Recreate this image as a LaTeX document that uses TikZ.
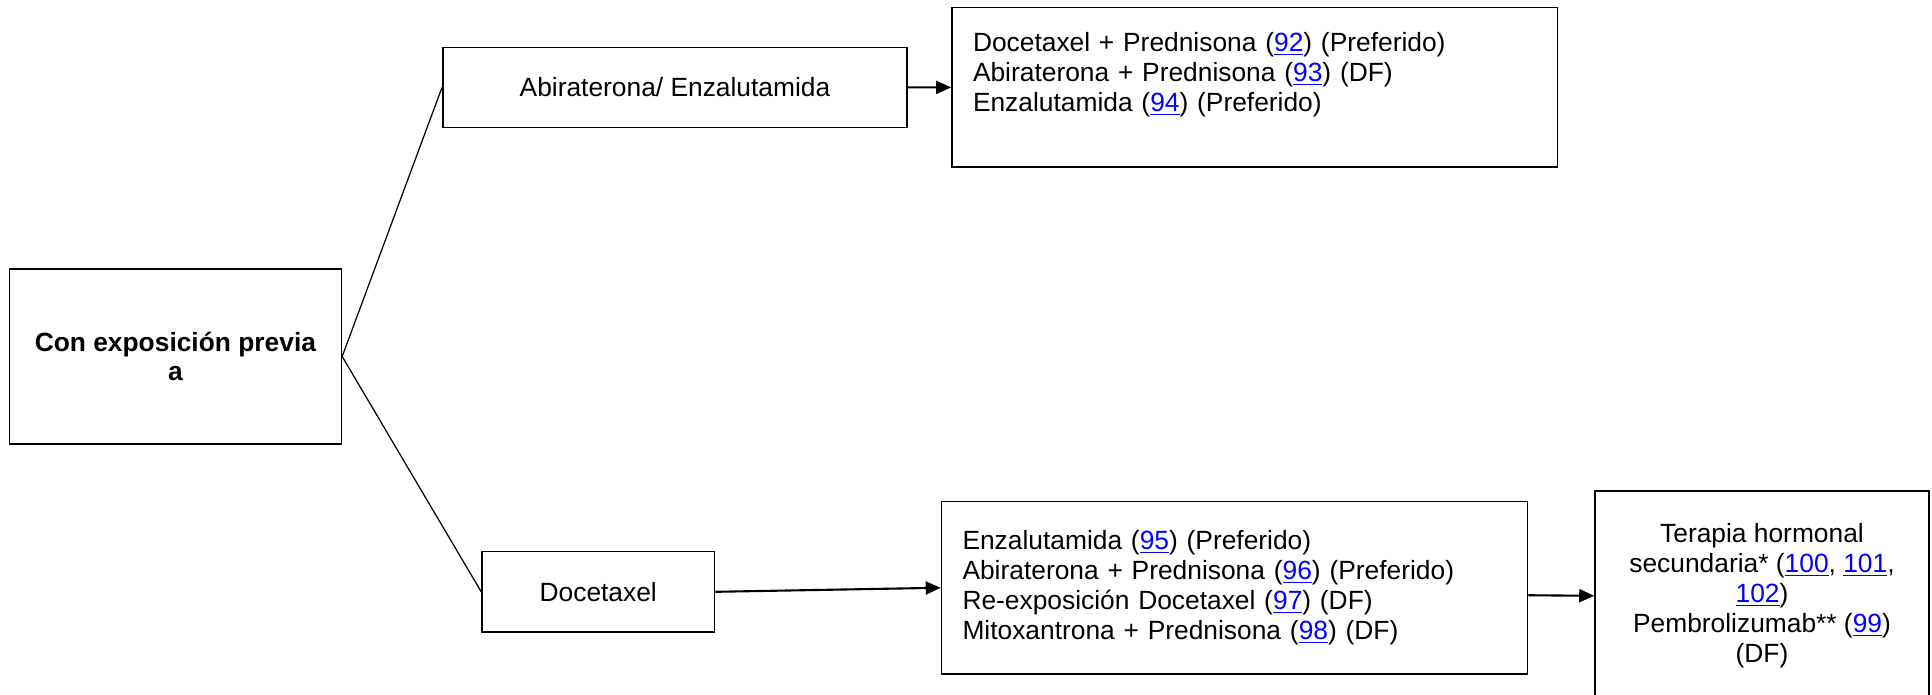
\documentclass[tikz,border=0pt]{standalone}
\usepackage{fontspec}
\setmainfont{Liberation Sans}
\usepackage{tikz}
\usetikzlibrary{arrows.meta,positioning}
\definecolor{linkBlue}{RGB}{0,0,255}
\newcommand{\cita}[1]{\textcolor{linkBlue}{\underline{#1}}}

\begin{document}
\begin{tikzpicture}[
      box/.style={draw, line width=0.9pt, inner sep=0pt,
        font=\fontsize{15}{17}\selectfont},
      lst/.style={box, align=left, inner xsep=0.42cm, text width=#1},
      rama/.style={line width=0.7pt},
      flecha/.style={->, line width=1.2pt},
      >={Triangle[length=0.3cm,width=0.26cm]}
    ]
      \useasboundingbox (0,0) rectangle (38.64,-13.88);

      % Starting box
      \node[box, minimum width=6.64cm, minimum height=3.5cm, align=center,
        font=\fontsize{15}{17}\selectfont\bfseries] (prev) at (3.508,-7.13)
        {Con exposición previa\\a};

      % First line of treatment
      \node[box, minimum width=9.29cm, minimum height=1.6cm] (abien)
        at (13.5,-1.75) {Abiraterona/ Enzalutamida};
      \node[box, minimum width=4.65cm, minimum height=1.608cm] (doce)
        at (11.965,-11.836) {Docetaxel};

      % Options
      \node[lst=11.27cm, minimum height=3.19cm] (opcA) at (25.095,-1.745)
        {Docetaxel + Prednisona (\cita{92}) (Preferido)\\
         Abiraterona + Prednisona (\cita{93}) (DF)\\
         Enzalutamida (\cita{94}) (Preferido)\\ ~};
      \node[lst=10.88cm, minimum height=3.45cm] (opcB) at (24.69,-11.755)
        {Enzalutamida (\cita{95}) (Preferido)\\
         Abiraterona + Prednisona (\cita{96}) (Preferido)\\
         Re-exposición Docetaxel (\cita{97}) (DF)\\
         Mitoxantrona + Prednisona (\cita{98}) (DF)};
      \node[box, anchor=north, minimum width=6.68cm, minimum height=4.2cm,
        align=center] (hormo) at (35.24,-9.8)
        {Terapia hormonal\\
         secundaria* (\cita{100}, \cita{101},\\
         \cita{102})\\
         Pembrolizumab** (\cita{99})\\
         (DF)};

      % Branches
      \draw[rama] (prev.east) -- (abien.west);
      \draw[rama] (prev.east) -- (doce.west);

      % Arrows
      \draw[flecha] (abien) -- (opcA);
      \draw[flecha] (doce.east) -- (opcB.west);
      \draw[flecha] ([yshift=-0.15cm]opcB.east) -- (hormo.west);
    \end{tikzpicture}
\end{document}
